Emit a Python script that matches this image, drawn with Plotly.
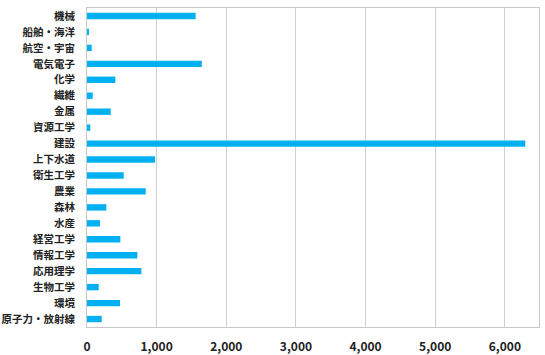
import plotly.graph_objects as go

categories = ["機械", "船舶・海洋", "航空・宇宙", "電気電子", "化学", "繊維", "金属", "資源工学",
              "建設", "上下水道", "衛生工学", "農業", "森林", "水産", "経営工学", "情報工学",
              "応用理学", "生物工学", "環境", "原子力・放射線"]
values = [1560, 20, 67, 1648, 407, 82, 340, 48, 6293, 977, 527, 843, 278, 187, 479, 723,
          781, 168, 474, 211]
x_ticks = [0, 1000, 2000, 3000, 4000, 5000, 6000]
x_tick_labels = ["0", "1,000", "2,000", "3,000", "4,000", "5,000", "6,000"]

fig = go.Figure(go.Bar(
    x=values, y=categories, orientation="h",
    marker=dict(color="#00B0F0", line=dict(width=0)),
    width=0.4,
))

font_family = "Noto Sans CJK JP"
fig.update_layout(
    width=545, height=355,
    margin=dict(l=87, r=6, t=8, b=28),
    paper_bgcolor="white", plot_bgcolor="white",
    showlegend=False,
    bargap=0.6,
    font=dict(family=font_family, color="#222222"),
)
fig.update_xaxes(
    range=[0, 6490],
    tickvals=x_ticks, ticktext=x_tick_labels,
    tickfont=dict(size=12, family=font_family, weight="bold", color="#222222"),
    showgrid=True, gridcolor="#D0D0D0", gridwidth=1,
    showline=True, linecolor="#C8C8C8", linewidth=1, mirror=True,
    zeroline=False, ticks="",
    ticklabelstandoff=9, automargin=False,
)
fig.update_yaxes(
    categoryorder="array", categoryarray=categories,
    autorange="reversed",
    tickfont=dict(size=10.5, family=font_family, weight="bold", color="#222222"),
    showline=True, linecolor="#C8C8C8", linewidth=1, mirror=True,
    showgrid=False, ticks="",
    ticklabelstandoff=9, automargin=False,
)

fig.write_html("out.html")
